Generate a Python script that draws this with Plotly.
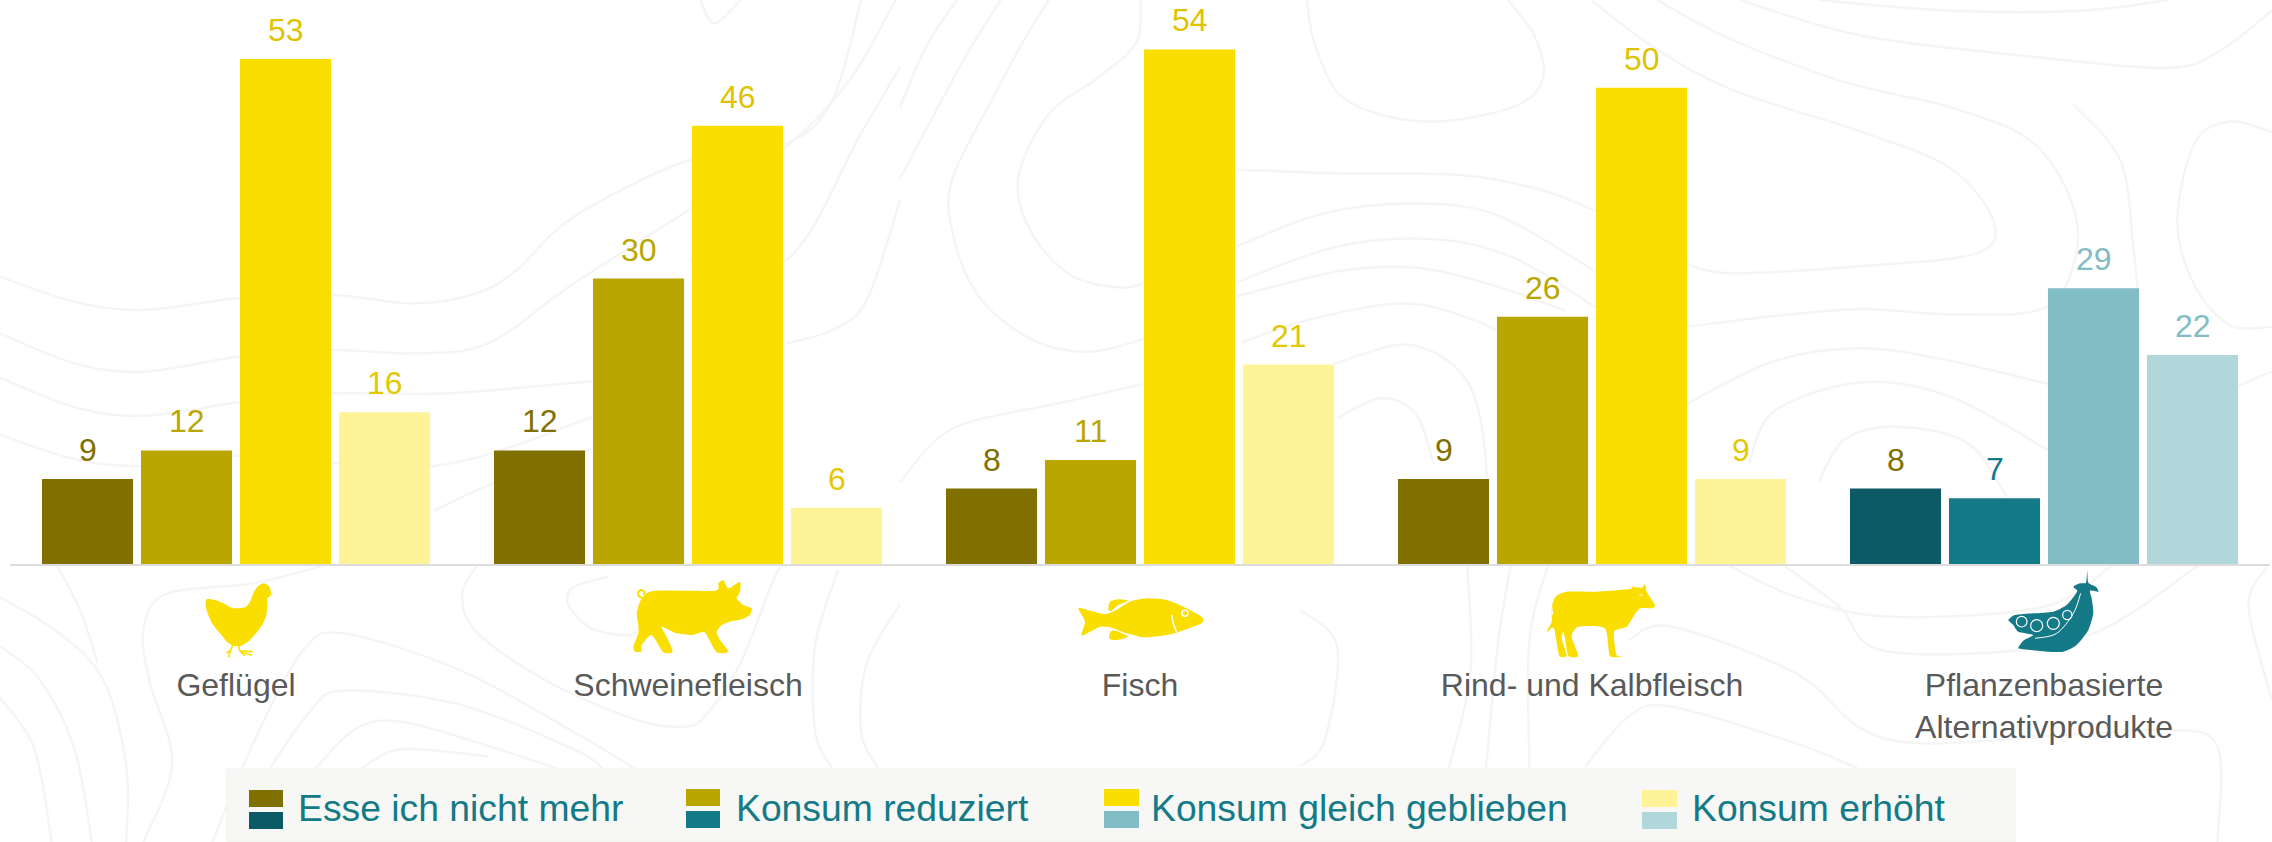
import plotly.graph_objects as go

categories = ["Geflügel", "Schweinefleisch", "Fisch", "Rind- und Kalbfleisch",
              "Pflanzenbasierte<br>Alternativprodukte"]
series_names = ["Esse ich nicht mehr", "Konsum reduziert", "Konsum gleich geblieben", "Konsum erhöht"]
nicht_mehr = [9, 12, 8, 9, 8]
reduziert = [12, 30, 11, 26, 7]
gleich = [53, 46, 54, 50, 29]
erhoeht = [16, 6, 21, 9, 22]
series_values = [nicht_mehr, reduziert, gleich, erhoeht]

meat_colors = ["#7f7000", "#baa600", "#f9de00", "#fff398"]
plant_colors = ["#0b5a66", "#147a88", "#82bcc4", "#b2d7da"]
label_colors = ["#7f7000", "#baa600", "#dfc300", "#e3c800"]
plant_label_colors = ["#7f7000", "#147a88", "#82bcc4", "#82bcc4"]

W, H = 2272, 842
ML, MR, MT, MB = 10, 2, 0, 277
PW, PH = W - ML - MR, H - MT - MB
PX_PER_UNIT = 9.547


def fx(px):
    return (px - ML) / PW


def fy(py):
    return 1 - (py - MT) / PH


def smooth(pts, closed=False, k=6.0):
    n = len(pts)
    P = [(fx(x), fy(y)) for x, y in pts]
    d = f"M{P[0][0]:.5f},{P[0][1]:.5f}"
    last = n if closed else n - 1
    for i in range(last):
        if closed:
            p0, p1, p2, p3 = P[(i - 1) % n], P[i], P[(i + 1) % n], P[(i + 2) % n]
        else:
            p0, p1, p2, p3 = P[max(i - 1, 0)], P[i], P[i + 1], P[min(i + 2, n - 1)]
        c1 = (p1[0] + (p2[0] - p0[0]) / k, p1[1] + (p2[1] - p0[1]) / k)
        c2 = (p2[0] - (p3[0] - p1[0]) / k, p2[1] - (p3[1] - p1[1]) / k)
        d += f"C{c1[0]:.5f},{c1[1]:.5f} {c2[0]:.5f},{c2[1]:.5f} {p2[0]:.5f},{p2[1]:.5f}"
    return d + ("Z" if closed else "")


def crop(points, ox, oy, sx, sy):
    return [(ox + a / sx, oy + b / sy) for a, b in points]


shapes = []

# background contour lines, traced per crop
C3 = (0, 0, 1.742, 3.0)
C9 = (900, 0, 1.143, 2.8)
C10 = (0, 300, 1.742, 2.893)
C2 = (1300, 540, 1.613, 3.0)
contours = [
    (C3, [(0, 830), (130, 905), (250, 930), (415, 895), (580, 885), (720, 910), (830, 880), (900, 810), (1000, 650), (1200, 480), (1370, 430), (1450, 300), (1500, 0)]),
    (C3, [(0, 1000), (130, 1090), (250, 1115), (415, 1070), (580, 1050), (720, 1060), (850, 1030), (1000, 850), (1200, 630), (1370, 440), (1480, 240), (1560, 0)]),
    (C3, [(1200, 780), (1370, 780), (1500, 400), (1568, 200)]),
    (C3, [(1370, 1030), (1450, 990), (1510, 900), (1568, 600)]),
    (C3, [(1220, 0), (1245, 70), (1290, 0)]),
    (C10, [(0, 225), (130, 310), (250, 335), (420, 295), (580, 270), (780, 270), (1030, 235)]),
    (C10, [(0, 390), (130, 460), (250, 480), (420, 450), (755, 480), (1030, 340)]),
    (C10, [(755, 610), (860, 530), (1030, 430)]),
    (C10, [(100, 770), (140, 900), (170, 1050)]),
    (C10, [(0, 860), (100, 960), (180, 1100), (220, 1350), (220, 1568)]),
    (C10, [(0, 1000), (70, 1100), (130, 1300), (160, 1568)]),
    (C10, [(0, 1150), (60, 1300), (90, 1568)]),
    (C10, [(250, 1568), (300, 1340), (260, 1100), (250, 950), (290, 850), (440, 820), (560, 770)]),
    (C10, [(370, 1568), (450, 1250), (530, 1010), (600, 965), (800, 1070), (1000, 1250), (1110, 1360)]),
    (C10, [(470, 1355), (540, 1190), (600, 1130), (800, 1170), (1000, 1300), (1050, 1355)]),
    (C10, [(550, 1355), (620, 1240), (700, 1220), (850, 1290), (970, 1355)]),
    (C10, [(630, 1355), (700, 1300), (850, 1320)]),
    (C10, [(1060, 800), (1000, 830), (990, 880), (1030, 950), (1090, 970), (1110, 960)]),
    (C10, [(830, 770), (805, 850), (830, 960), (950, 1100), (1100, 1210), (1190, 1235), (1230, 1200), (1290, 1050), (1350, 800), (1370, 770)]),
    (C10, [(1460, 780), (1420, 1000), (1420, 1250), (1450, 1355)]),
    (C10, [(1568, 880), (1510, 1050), (1500, 1250), (1530, 1355)]),
    (C9, [(65, 0), (30, 130), (0, 300)]),
    (C9, [(115, 0), (70, 180), (0, 500)]),
    (C9, [(170, 0), (140, 120), (105, 280), (60, 500), (60, 650), (90, 830), (150, 950), (215, 985), (278, 950)]),
    (C9, [(275, 0), (270, 120), (225, 220), (170, 320), (135, 500), (150, 650), (195, 770), (250, 805), (278, 795)]),
    (C9, [(465, 0), (475, 130), (510, 280), (600, 340), (700, 300), (735, 220), (725, 100), (695, 0)]),
    (C9, [(790, 0), (860, 130), (950, 250), (1100, 370), (1200, 470), (1250, 620), (1230, 710), (1100, 745), (950, 765), (900, 740)]),
    (C9, [(865, 0), (950, 110), (1080, 230), (1200, 300), (1290, 390), (1335, 540), (1345, 700), (1310, 860), (1200, 880), (1100, 865), (1000, 885), (900, 915)]),
    (C9, [(960, 0), (1100, 100), (1300, 160), (1450, 190), (1510, 140), (1568, 30)]),
    (C9, [(1050, 0), (1200, 30), (1350, 30), (1450, 0)]),
    (C9, [(1340, 290), (1395, 450), (1410, 700), (1415, 830)]),
    (C9, [(1568, 370), (1520, 340), (1480, 400), (1460, 620), (1480, 800), (1520, 910), (1568, 915)]),
    (C9, [(385, 475), (500, 485), (640, 490), (730, 530), (795, 590)]),
    (C9, [(385, 690), (480, 600), (580, 570), (680, 600), (795, 760)]),
    (C9, [(385, 790), (500, 690), (610, 670), (700, 720), (795, 860)]),
    (C9, [(385, 830), (500, 760), (590, 750), (680, 800), (760, 870)]),
    (C9, [(390, 960), (460, 900), (575, 850), (660, 900), (720, 980)]),
    (C9, [(495, 1020), (570, 965), (620, 1000), (655, 1100), (670, 1300), (670, 1568)]),
    (C9, [(500, 1170), (550, 1115), (590, 1160), (610, 1300)]),
    (C9, [(900, 1130), (1000, 1010), (1100, 975), (1200, 1010), (1312, 1075)]),
    (C9, [(970, 1300), (1000, 1150), (1100, 1070), (1200, 1110), (1312, 1260)]),
    (C9, [(1050, 1350), (1080, 1230), (1140, 1195), (1220, 1240), (1265, 1390)]),
    (C9, [(0, 1350), (60, 1200), (180, 1130), (278, 1075)]),
    (C9, [(1530, 1080), (1568, 1040)]),
    (C2, [(690, 75), (800, 170), (950, 230), (1200, 200), (1310, 75)]),
    (C2, [(780, 75), (870, 200), (950, 335), (1250, 300), (1450, 75)]),
    (C2, [(530, 300), (600, 260), (800, 400), (900, 560), (1000, 610), (1200, 590), (1400, 570), (1480, 620), (1480, 906)]),
    (C2, [(460, 680), (530, 530), (600, 500), (800, 610), (900, 685)]),
    (C2, [(0, 210), (60, 320), (40, 600), (0, 680)]),
    (C2, [(270, 75), (275, 400), (240, 685)]),
    (C2, [(340, 75), (320, 300), (300, 685)]),
    (C2, [(400, 75), (370, 300), (370, 685)]),
    (C2, [(1560, 80), (1530, 200), (1568, 480)]),
]
for c, pts in contours:
    shapes.append(dict(type="path", xref="paper", yref="paper", layer="below",
                       path=smooth(crop(pts, *c)),
                       line=dict(color="#f5f5f5", width=2.5)))


def icon(points, origin, color):
    shapes.append(dict(type="path", xref="paper", yref="paper", layer="above",
                       path=smooth(crop(points, origin[0], origin[1], 3, 3), closed=True, k=10),
                       fillcolor=color, line=dict(width=0)))


def stroke(points, origin, color, width):
    shapes.append(dict(type="path", xref="paper", yref="paper", layer="above",
                       path=smooth(crop(points, origin[0], origin[1], 3, 3)),
                       line=dict(color=color, width=width)))


def ring(cx, cy, r, origin, color, width=1.2):
    ox, oy = origin
    shapes.append(dict(type="circle", xref="paper", yref="paper", layer="above",
                       x0=fx(ox + (cx - r) / 3), x1=fx(ox + (cx + r) / 3),
                       y0=fy(oy + (cy + r) / 3), y1=fy(oy + (cy - r) / 3),
                       line=dict(color=color, width=width), fillcolor="rgba(0,0,0,0)"))


YEL, TEAL = meat_colors[2], plant_colors[1]

o = (190, 570)
icon([(244, 70), (238, 50), (222, 40), (205, 48), (192, 65), (180, 95), (165, 112), (130, 115), (100, 100), (75, 90), (50, 88),
      (47, 110), (57, 140), (70, 165), (90, 190), (110, 215), (130, 227), (155, 227), (180, 210),
      (210, 175), (228, 140), (232, 105), (232, 85), (244, 75)], o, YEL)
stroke([(128, 225), (122, 240), (110, 250)], o, YEL, 1.6)
stroke([(122, 240), (116, 262)], o, YEL, 1.6)
stroke([(147, 225), (150, 243), (185, 256)], o, YEL, 1.6)
stroke([(150, 243), (188, 245)], o, YEL, 1.6)
stroke([(150, 243), (165, 258)], o, YEL, 1.6)

o = (620, 570)
icon([(50, 130), (60, 95), (80, 70), (110, 62), (285, 62), (295, 40), (310, 30), (325, 55), (360, 35), (360, 65), (350, 85), (370, 105),
      (395, 115), (390, 135), (365, 148), (330, 155), (305, 165), (290, 185), (300, 210), (325, 245), (290, 247), (260, 195), (250, 185),
      (215, 195), (170, 190), (125, 170), (140, 200), (158, 245), (130, 247), (95, 195), (65, 225), (65, 245), (45, 245), (40, 230),
      (55, 190), (55, 165)], o, YEL)
stroke([(82, 72), (75, 82), (62, 82), (54, 70), (62, 60), (74, 66), (70, 75)], o, YEL, 2)

o = (1060, 580)
icon([(55, 85), (90, 92), (135, 102), (165, 92), (210, 65), (260, 55), (320, 60), (370, 80), (425, 110), (425, 130), (350, 158),
      (300, 168), (250, 172), (200, 160), (155, 143), (120, 140), (65, 167), (75, 125)], o, YEL)
icon([(145, 90), (150, 65), (175, 58), (205, 62), (175, 75), (155, 92)], o, YEL)
icon([(148, 165), (155, 152), (175, 155), (205, 170), (170, 180), (150, 178)], o, YEL)
stroke([(335, 105), (340, 130), (350, 157)], o, "#ffffff", 1.5)
ring(375, 100, 9, o, "#ffffff", 1.5)

o = (1530, 575)
icon([(52, 165), (65, 140), (65, 85), (80, 62), (110, 50), (200, 50), (300, 42), (305, 35), (335, 38), (345, 28), (350, 50), (375, 90),
      (365, 100), (330, 100), (310, 125), (290, 155), (252, 170), (260, 240), (285, 243), (240, 243), (225, 160), (145, 155), (125, 185),
      (145, 242), (115, 243), (105, 190), (100, 170), (95, 190), (110, 242), (88, 243), (78, 190), (72, 160), (62, 160), (55, 170)], o, YEL)
stroke([(72, 70), (65, 90), (68, 118)], o, "#ffffff", 1.2)
stroke([(328, 60), (338, 60)], o, "#ffffff", 1.2)

o = (1990, 570)
icon([(292, 2), (295, 38), (318, 50), (325, 65), (300, 62), (305, 85), (310, 130), (295, 180), (260, 225), (220, 245), (170, 245),
      (120, 240), (85, 235), (100, 212), (130, 195), (85, 185), (70, 165), (55, 150), (75, 135), (130, 130), (190, 125), (230, 105),
      (255, 75), (262, 62), (250, 50), (270, 40), (288, 38)], o, TEAL)
for cx, cy, r in [(95, 155, 16), (140, 167, 18), (190, 160, 18), (232, 135, 14)]:
    ring(cx, cy, r, o, "#ffffff", 1.2)
stroke([(135, 205), (200, 190), (250, 130), (272, 70)], o, "#ffffff", 1.0)

# baseline, drawn over the feet of the bars
shapes.append(dict(type="line", xref="paper", yref="paper", layer="above",
                   x0=fx(10), x1=fx(2270), y0=fy(565), y1=fy(565),
                   line=dict(color="#dddddd", width=2)))

# legend box and two-tone swatches
shapes.append(dict(type="rect", xref="paper", yref="paper", layer="below",
                   x0=fx(227), x1=fx(2015), y0=fy(842), y1=fy(769),
                   fillcolor="#f7f7f5", line=dict(color="#f2f2f0", width=1)))
legend_x = [(249, 283, 298), (686, 720, 736), (1104, 1139, 1152), (1642, 1677, 1692)]
legend_text_x = [296, 734, 1149, 1690]
legend_top = [790, 789, 789, 790]
for k, ((a, b, tx), top) in enumerate(zip(legend_x, legend_top)):
    for col, t in ((meat_colors[k], top), (plant_colors[k], top + 22)):
        shapes.append(dict(type="rect", xref="paper", yref="paper", layer="above",
                           x0=fx(a), x1=fx(b), y0=fy(t + 17), y1=fy(t),
                           fillcolor=col, line=dict(width=0)))

fig = go.Figure()
annotations = []
SLOT = 99
for k, (name, vals) in enumerate(zip(series_names, series_values)):
    cols = [plant_colors[k] if i == 4 else meat_colors[k] for i in range(5)]
    fig.add_trace(go.Bar(name=name, x=categories, y=vals, marker=dict(color=cols, line=dict(width=0)), showlegend=False))
    for i, v in enumerate(vals):
        lc = plant_label_colors[k] if i == 4 else label_colors[k]
        annotations.append(dict(x=categories[i], y=v, xref="x", yref="y", text=str(v), showarrow=False,
                                xanchor="center", yanchor="bottom", xshift=(k - 1.5) * SLOT, yshift=9,
                                font=dict(family="Liberation Sans", size=32, color=lc)))

for tx, name in zip(legend_text_x, series_names):
    annotations.append(dict(x=fx(tx), y=fy(808), xref="paper", yref="paper", text=name, showarrow=False,
                            xanchor="left", yanchor="middle",
                            font=dict(family="Liberation Sans", size=37.3, color="#137a87")))

fig.update_layout(
    width=W, height=H, margin=dict(l=ML, r=MR, t=MT, b=MB, pad=0),
    paper_bgcolor="#ffffff", plot_bgcolor="rgba(0,0,0,0)",
    barmode="group", bargap=0.124, bargroupgap=0.08,
    shapes=shapes, annotations=annotations,
    font=dict(family="Liberation Sans"),
    xaxis=dict(type="category", showline=False, showgrid=False, ticks="",
               tickfont=dict(family="Liberation Sans", size=32, color="#595959"), ticklabelstandoff=98,
               fixedrange=True),
    yaxis=dict(range=[0, PH / PX_PER_UNIT], visible=False, fixedrange=True),
)
fig.write_html("out.html", config=dict(displayModeBar=False), post_script="document.body.style.margin='0';")
